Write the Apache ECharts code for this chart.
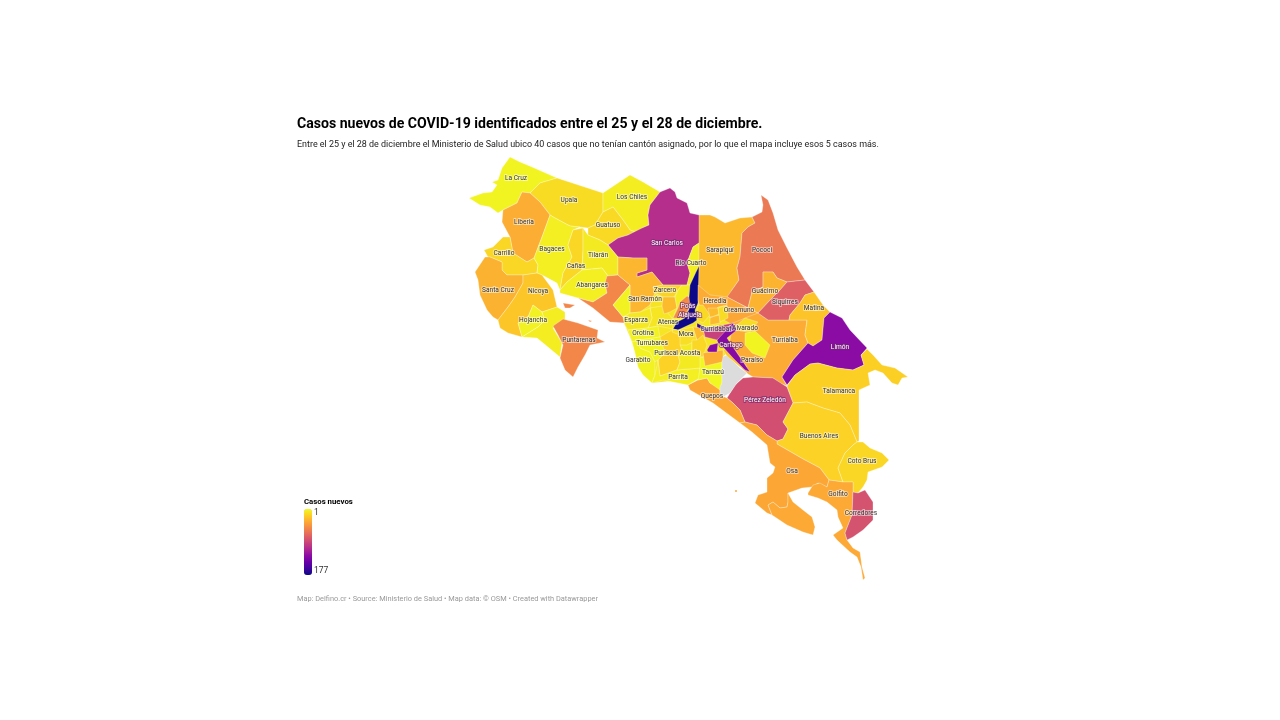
<!DOCTYPE html>
<html>
<head>
<meta charset="utf-8">
<title>Casos nuevos de COVID-19</title>
<style>
  html, body { margin: 0; padding: 0; background: #fff; }
  #main { width: 1280px; height: 720px; }
</style>
<script src="https://cdn.jsdelivr.net/npm/echarts@6/dist/echarts.min.js"></script>
</head>
<body>
<div id="main"></div>
<script>
// canton names and the cases read from the colour of each one
// Valle Central is a plain underlay for the small cantons the picture does not separate clearly
var cantons = ['Valle Central','Turrialba','Oreamuno','Sarapiquí','Pococí','Guácimo','Siquirres','Matina','Limón','Talamanca','Pérez Zeledón','Buenos Aires','Coto Brus','Quepos','Osa','Golfito','Corredores','La Cruz','Upala','Los Chiles','Guatuso','San Carlos','Río Cuarto','Liberia','Carrillo','Bagaces','Cañas','Tilarán','Abangares','Santa Cruz','Nicoya','Hojancha','Nandayure','Puntarenas','Montes de Oro','San Ramón','Zarcero','Naranjo','Palmares','Atenas','Grecia','Poás','Alajuela','Esparza','Orotina','Garabito','Turrubares','Puriscal','Parrita','Acosta','Mora','Tarrazú','Dota','Heredia','Barva','Santo Domingo','Coronado','Escazú','Aserrí','León Cortés','La Unión','San José','Jiménez','Guarco','Alvarado','Cartago'];
var casos = [9,34,36,28,60,30,74,23,126,18,84,17,15,36,36,35,82,3,13,6,14,104,5,33,15,5,15,7,5,31,22,4,6,52,4,29,16,27,10,9,6,50,177,8,4,4,3,17,5,7,12,2,null,34,14,27,13,28,15,33,92,160,3,22,13,128];

// labels drawn on the map and the canton they belong to
var labelNames = ['La Cruz','Upala','Los Chiles','Guatuso','San Carlos','Río Cuarto','Liberia','Bagaces','Tilarán','Cañas','Carrillo','Abangares','Zarcero','San Ramón','Santa Cruz','Nicoya','Hojancha','Puntarenas','Esparza','Atenas','Poás','Alajuela','Mora','Orotina','Turrubares','Puriscal','Acosta','Garabito','Parrita','Sarapiquí','Pococí','Heredia','Oreamuno','Guácimo','Siquirres','Matina','Turrialba','Limón','Talamanca','Alvarado','Cartago','La Unión','Jiménez','Tarrazú','Quepos','Pérez Zeledón','Buenos Aires','Coto Brus','Osa','Golfito','Corredores'];
var lightLabels = ['San Carlos','Limón','Pérez Zeledón','Poás','Alajuela','Cartago'];

var legendTicks = ['1', '177'];
var plasma = ['#f0f921','#fcce25','#fca636','#f1844b','#e16462','#cc4778','#b12a90','#8f0da4','#6a00a8','#41049d','#0d0887'];

// outlines, one flat x,y list per ring (drawn in this order)
var outlines = {
  'Valle Central': [[618,257,699,267,725,297,760,325,725,355,700,378,652,383,632,342,624,323,630,285]],
  'Sarapiquí': [[698,215,710,215,715,217,725,223,740,218,752,217,755,223,748,227,742,233,740,257,737,268,739,280,732,290,728,298,710,298,698,290]],
  'Pococí': [[752,217,762,212,763,205,761,195,768,200,773,213,778,230,787,248,797,267,805,280,787,282,777,278,773,272,763,272,763,287,752,292,748,308,727,297,739,280,737,268,740,257,742,233,748,227,755,223]],
  'Oreamuno': [[727,297,748,308,758,313,768,320,750,326,733,325,724,320,724,305]],
  'Turrialba': [[750,316,758,313,768,320,789,320,807,320,805,335,808,343,793,360,782,377,787,386,780,383,773,378,753,377,748,374,735,362,725,352,730,340,733,323]],
  'Guácimo': [[763,272,773,272,777,278,787,282,780,290,772,298,758,313,748,308,752,292,763,287]],
  'Siquirres': [[787,282,805,280,814,292,805,295,800,303,790,315,789,320,768,320,758,313,772,298,780,290]],
  'Matina': [[814,292,823,305,830,312,824,318,822,340,813,346,808,343,805,335,807,320,789,320,790,315,800,303,805,295]],
  'Limón': [[830,312,842,318,850,330,867,348,861,355,864,365,853,370,837,368,818,363,810,364,795,375,787,385,782,377,793,360,808,343,813,346,822,340,824,318]],
  'Talamanca': [[787,386,795,375,810,364,818,363,837,368,853,370,864,365,861,355,867,349,873,355,882,365,895,368,908,377,902,378,898,385,892,383,883,373,875,370,868,373,870,385,859,390,859,441,857,442,850,425,840,413,823,408,807,402,793,403]],
  'Pérez Zeledón': [[727,398,735,385,743,378,753,377,773,378,787,387,793,403,783,422,788,429,783,439,777,441,767,435,757,425,745,422,740,410,733,403]],
  'Buenos Aires': [[793,403,807,402,823,408,840,413,850,425,857,442,853,445,845,453,838,468,843,482,829,480,820,468,803,459,777,444,777,441,783,439,788,429,783,422]],
  'Coto Brus': [[857,442,863,442,870,448,882,453,889,460,882,467,868,472,867,480,863,487,858,493,853,492,853,482,843,482,838,468,845,453,853,445]],
  'Quepos': [[688,385,698,380,707,378,710,383,720,387,720,395,727,398,733,403,740,410,745,422,740,423,713,403,690,390]],
  'Osa': [[740,423,745,422,757,425,767,435,777,441,777,444,803,459,820,468,829,480,827,487,818,483,812,487,802,488,788,493,788,502,787,507,780,508,773,502,768,505,772,515,767,513,755,503,758,495,767,492,767,478,773,473,775,467,770,463,767,445,752,432],
          [735,490,737,490,737,492,735,492]],
  'Golfito': [[768,505,773,502,780,508,787,507,788,502,788,493,793,502,803,510,812,517,815,527,813,535,803,532,787,525,772,515],
              [808,493,813,485,820,483,827,487,829,480,843,482,853,482,853,492,852,515,845,533,847,540,853,548,860,552,862,567,865,578,863,580,861,567,857,557,850,552,837,540,833,535,843,528,838,517,837,510,827,502,818,498,808,495]],
  'Corredores': [[853,492,858,493,865,490,873,502,873,520,863,530,853,537,847,540,845,533,852,515]],
  'La Cruz': [[510,157,520,162,532,167,557,178,540,183,530,193,522,192,517,203,503,210,498,213,490,207,480,205,469,198,483,193,492,192,497,185,492,182,498,180,502,168]],
  'Upala': [[557,178,603,193,603,212,595,225,588,228,570,226,555,218,550,215,540,202,530,193,540,183]],
  'Los Chiles': [[603,193,630,175,643,182,660,192,650,205,648,215,649,225,642,228,638,233,630,230,623,220,613,207,603,212]],
  'Guatuso': [[603,212,613,207,623,220,630,230,635,232,628,235,618,238,608,245,600,240,588,235,588,228,595,225]],
  'San Carlos': [[660,192,670,188,675,192,677,198,687,203,690,213,699,215,699,243,693,247,687,263,690,273,687,285,663,285,652,272,637,277,637,273,647,270,647,258,633,258,618,257,608,245,618,238,628,235,642,228,649,225,648,215,650,205]],
  'Río Cuarto': [[699,243,699,268,694,278,691,285,687,285,690,273,687,263,693,247]],
  'Liberia': [[522,192,530,193,540,202,550,215,542,237,534,258,527,262,513,253,510,237,502,222,503,210,517,203]],
  'Carrillo': [[503,237,510,237,513,253,527,262,534,258,538,265,537,273,523,275,507,275,502,270,502,262,490,257,488,257,484,250,493,247]],
  'Bagaces': [[555,218,570,226,580,227,573,230,568,245,572,257,563,273,560,290,557,283,542,275,537,273,538,265,534,258,542,237,550,215]],
  'Cañas': [[573,230,583,228,583,250,582,270,567,282,560,290,563,273,572,257,568,245]],
  'Tilarán': [[583,228,588,235,600,240,608,245,618,257,618,275,608,276,602,268,582,270,583,250]],
  'Abangares': [[582,270,602,268,608,276,605,283,607,293,593,302,578,298,560,293,560,290,567,282]],
  'Santa Cruz': [[475,272,485,257,490,257,502,262,502,270,507,275,523,275,523,283,515,297,508,307,498,320,493,317,487,310,480,295,478,280]],
  'Nicoya': [[523,275,537,273,542,275,553,290,557,307,542,312,533,305,528,317,518,323,522,337,508,333,500,328,498,320,508,307,515,297,523,283]],
  'Hojancha': [[533,305,542,312,545,320,538,327,522,337,518,323,528,317]],
  'Nandayure': [[542,312,557,307,565,312,565,320,553,328,562,343,560,357,548,347,537,338,522,337,538,327,545,320]],
  'Puntarenas': [[553,326,563,319,578,323,598,330,597,338,605,342,590,345,585,355,578,367,573,377,565,370,560,358,563,345,558,335],
                 [563,303,575,305,570,308,565,308],[578,320,583,321,582,322],[588,320,592,321,590,322],
                 [607,276,618,275,630,285,613,305,623,317,625,323,610,322,593,308,578,298,593,302,607,293,605,283]],
  'San Ramón': [[618,257,633,258,647,258,647,270,637,273,637,277,652,272,663,285,653,287,655,293,650,305,640,312,630,313,630,293,630,285,618,275]],
  'Montes de Oro': [[630,285,630,313,623,317,613,305]],
  'Palmares': [[655,293,663,297,668,305,660,316,652,318,650,305]],
  'Atenas': [[650,308,662,306,672,318,673,329,658,326,648,328,652,318]],
  'Zarcero': [[653,287,663,285,682,285,678,290,674,297,663,297,655,293]],
  'Naranjo': [[663,297,675,297,677,308,670,312,664,314,662,306]],
  'Grecia': [[682,285,691,285,689,297,690,307,685,318,673,322,673,318,677,308,675,297,674,297,678,290]],
  'Poás': [[680,302,687,296,691,298,688,310,682,318,673,318,678,308]],
  'Alajuela': [[699,266,698,303,695,310,697,320,693,323,678,330,673,329,677,322,685,318,690,307,689,297,690,285,696,272]],
  'Esparza': [[623,318,630,313,640,312,650,308,652,318,648,328,628,330,625,325]],
  'Orotina': [[628,330,648,328,658,326,660,337,640,340,632,342]],
  'Garabito': [[632,342,640,340,640,348,650,352,655,362,655,375,652,383,643,375,638,367,635,353]],
  'Turrubares': [[640,340,660,337,668,338,665,355,655,362,650,352,640,348]],
  'Puriscal': [[660,337,672,330,680,335,682,350,678,355,680,362,677,370,660,376,658,360,665,353]],
  'Parrita': [[660,376,677,370,700,368,700,378,688,385,663,380,652,383,655,375,658,360]],
  'Acosta': [[680,345,692,340,692,355,703,353,705,365,700,368,677,370,680,362,678,355,682,350]],
  'Mora': [[673,329,678,330,693,327,697,340,687,345,680,345,680,335,672,332]],
  'Tarrazú': [[700,357,722,357,722,383,720,390,710,383,707,378,698,380,700,368]],
  'Dota': [[722,357,727,355,740,368,747,373,737,383,730,393,723,397,720,395,720,387,722,383]],
  'Heredia': [[698,285,710,295,728,297,727,305,718,307,710,315,700,307,698,300]],
  'Barva': [[698,305,703,305,710,315,703,323,697,320]],
  'Santo Domingo': [[708,308,718,308,719,314,710,318],[710,317,720,315,720,323,710,325]],
  'Coronado': [[718,308,727,305,728,318,720,322]],
  'Escazú': [[693,327,703,328,705,335,703,345,697,348,697,340]],
  'Aserrí': [[692,340,697,340,703,335,707,345,703,357,692,355]],
  'León Cortés': [[703,353,723,350,723,357,722,362,705,366]],
  'La Unión': [[703,328,718,326,733,323,727,333,717,340,705,337]],
  'San José': [[697,323,704,327,712,331,706,331,697,327]],
  'Guarco': [[723,350,733,347,747,367,740,367,727,356]],
  'Jiménez': [[745,333,755,331,770,345,765,358,752,353,745,345]],
  'Alvarado': [[737,325,745,318,758,322,750,332,740,331]],
  'Cartago': [[717,340,733,323,737,330,727,338,735,350,750,372,745,370,733,358,723,347,718,343],
              [707,350,710,345,718,343,717,352,708,352]]
};

// where each label sits on the map
var labelAnchors = {
  'La Cruz':[516,178],'Upala':[569,200],'Los Chiles':[632,197],'Guatuso':[608,225],'San Carlos':[667,243],'Río Cuarto':[691,263],
  'Liberia':[524,222],'Bagaces':[552,249],'Tilarán':[598,255],'Cañas':[576,266],'Carrillo':[504,253],'Abangares':[592,285],
  'Zarcero':[665,290],'San Ramón':[645,299],'Santa Cruz':[498,290],'Nicoya':[538,291],'Hojancha':[533,320],'Puntarenas':[579,340],
  'Esparza':[636,320],'Atenas':[668,322],'Poás':[688,306],'Alajuela':[690,315],'Mora':[686,334],'Orotina':[643,333],
  'Turrubares':[652,343],'Puriscal':[666,353],'Acosta':[690,353],'Garabito':[638,360],'Parrita':[678,377],'Sarapiquí':[720,250],
  'Pococí':[762,250],'Heredia':[715,301],'Oreamuno':[739,310],'Guácimo':[765,291],'Siquirres':[785,302],'Matina':[814,308],
  'Turrialba':[785,340],'Limón':[840,347],'Talamanca':[839,391],'Alvarado':[745,328],'Cartago':[731,345],'La Unión':[716,329],
  'Jiménez':[752,360],'Tarrazú':[713,372],'Quepos':[712,396],'Pérez Zeledón':[765,400],'Buenos Aires':[819,436],'Coto Brus':[862,461],
  'Osa':[792,471],'Golfito':[838,494],'Corredores':[861,513]
};
// these go by another label in the picture
var labelText = { 'Río Cuarto': 'Rio Cuarto', 'La Unión': 'Curridabat', 'Jiménez': 'Paraíso' };

function toRing(flat) {
  var ring = [];
  for (var i = 0; i < flat.length; i += 2) ring.push([flat[i], flat[i + 1]]);
  ring.push(ring[0]);
  return ring;
}

var features = [];
var minX = Infinity, minY = Infinity, maxX = -Infinity, maxY = -Infinity;
Object.keys(outlines).forEach(function (name) {
  var polys = outlines[name].map(function (flat) {
    var ring = toRing(flat);
    ring.forEach(function (p) {
      minX = Math.min(minX, p[0]); maxX = Math.max(maxX, p[0]);
      minY = Math.min(minY, p[1]); maxY = Math.max(maxY, p[1]);
    });
    return [ring];
  });
  features.push({
    type: 'Feature',
    properties: { name: name, cp: labelAnchors[name] },
    geometry: { type: 'MultiPolygon', coordinates: polys }
  });
});
echarts.registerMap('costarica', { type: 'FeatureCollection', features: features });

var mapData = cantons.map(function (name, i) {
  var shown = labelNames.indexOf(name) >= 0;
  var light = lightLabels.indexOf(name) >= 0;
  return {
    name: name,
    value: casos[i],
    label: {
      show: shown,
      formatter: labelText[name] || name,
      color: light ? '#fff' : '#333',
      textBorderColor: light ? 'rgba(110,40,110,0.6)' : 'rgba(255,255,255,0.5)',
      textBorderWidth: 2
    }
  };
});

var chart = echarts.init(document.getElementById('main'));
chart.setOption({
  animation: false,
  backgroundColor: '#fff',
  title: [
    { text: 'Casos nuevos de COVID-19 identificados entre el 25 y el 28 de diciembre.', left: 297, top: 117, padding: 0,
      textStyle: { fontFamily: 'Roboto', fontSize: 14.1, fontWeight: 'bold', color: '#000' } },
    { text: 'Entre el 25 y el 28 de diciembre el Ministerio de Salud ubico 40 casos que no tenían cantón asignado, por lo que el mapa incluye esos 5 casos más.', left: 297, top: 140, padding: 0,
      textStyle: { fontFamily: 'Roboto', fontSize: 8.95, fontWeight: 'normal', color: '#222' } },
    { text: 'Casos nuevos', left: 304, top: 498, padding: 0,
      textStyle: { fontFamily: 'Roboto', fontSize: 7.8, fontWeight: 'bold', color: '#000' } },
    { text: legendTicks[0], left: 314, top: 508, padding: 0,
      textStyle: { fontFamily: 'Roboto', fontSize: 8.5, fontWeight: 'normal', color: '#333' } },
    { text: legendTicks[1], left: 314, top: 566, padding: 0,
      textStyle: { fontFamily: 'Roboto', fontSize: 8.5, fontWeight: 'normal', color: '#333' } },
    { text: 'Map: Delfino.cr • Source: Ministerio de Salud • Map data: © OSM • Created with Datawrapper', left: 297, top: 596, padding: 0,
      textStyle: { fontFamily: 'Roboto', fontSize: 7.4, fontWeight: 'normal', color: '#999' } }
  ],
  visualMap: {
    type: 'continuous',
    min: 1,
    max: 177,
    inverse: true,
    left: 304,
    top: 509,
    itemWidth: 8,
    itemHeight: 66,
    padding: 0,
    borderRadius: 0,
    text: null,
    calculable: false,
    realtime: false,
    seriesIndex: 0,
    inRange: { color: plasma }
  },
  series: [{
    type: 'map',
    map: 'costarica',
    projection: { project: function (p) { return p; }, unproject: function (p) { return p; } },
    left: minX,
    top: minY,
    width: maxX - minX,
    height: maxY - minY,
    roam: false,
    silent: true,
    selectedMode: false,
    itemStyle: { areaColor: '#dcdcdc', borderColor: 'rgba(255,255,255,0.6)', borderWidth: 0.5 },
    label: { show: false, fontFamily: 'Roboto', fontSize: 6.6 },
    data: mapData
  }]
});
</script>
</body>
</html>
